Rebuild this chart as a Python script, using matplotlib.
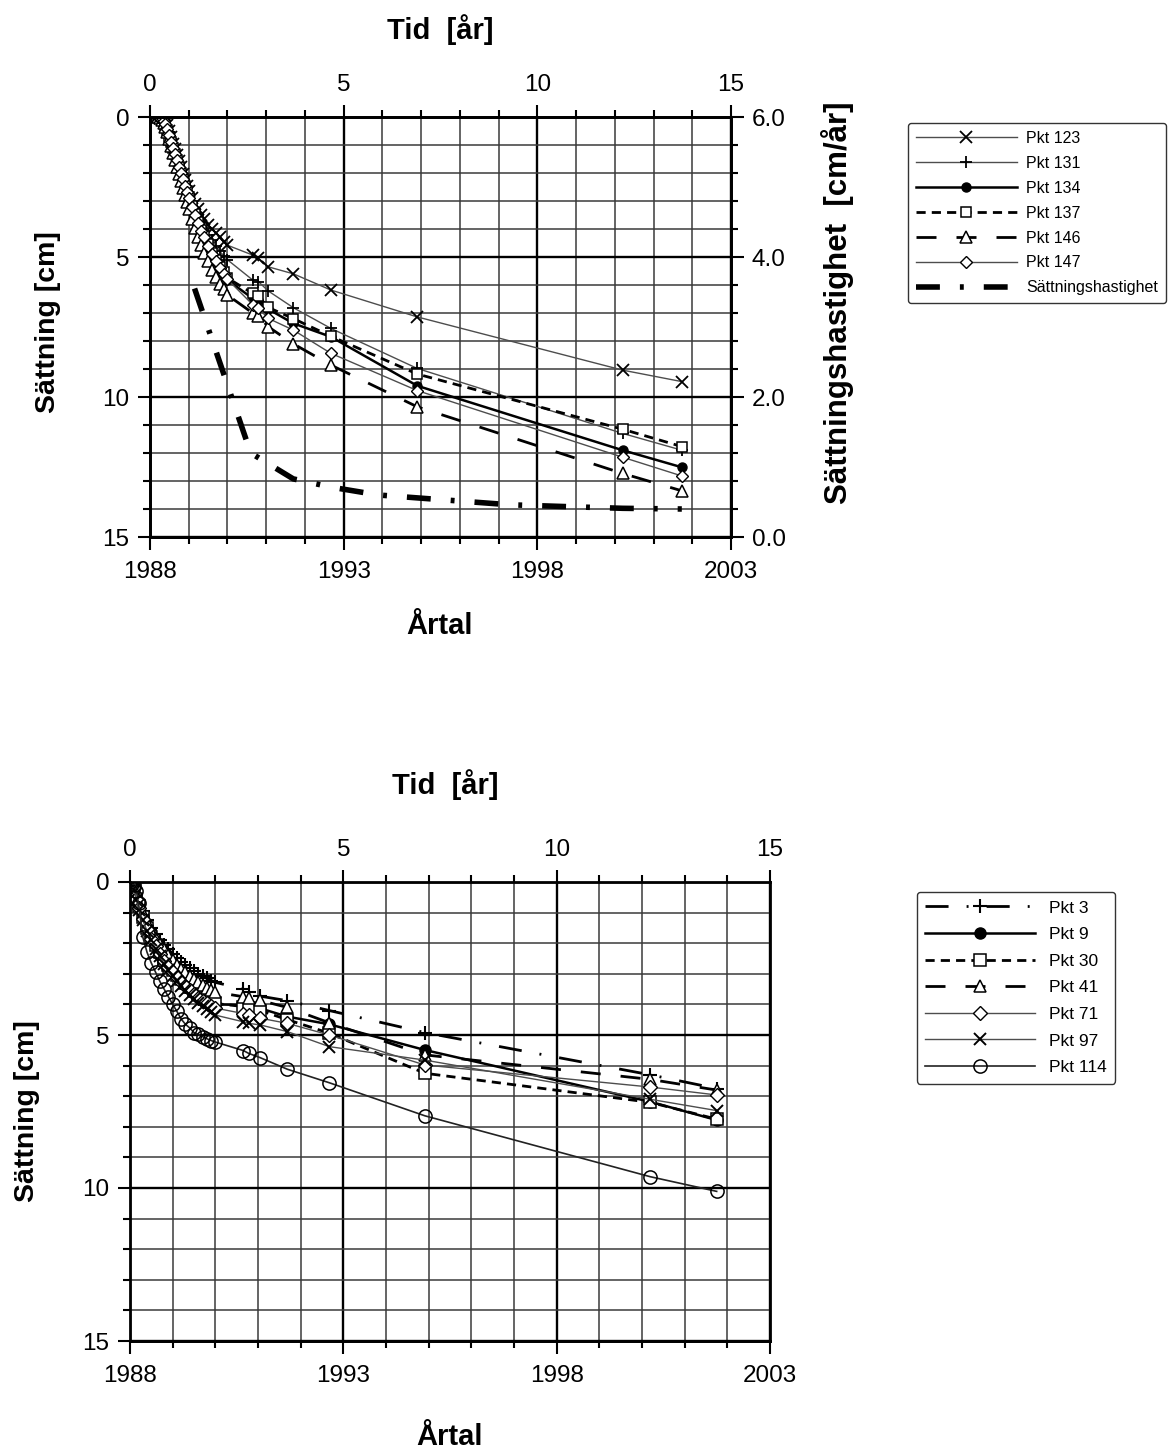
import numpy as np
import matplotlib.pyplot as plt
from matplotlib.ticker import MultipleLocator, FixedLocator, FormatStrFormatter

plt.rcParams['font.family'] = ['Liberation Sans', 'DejaVu Sans']

# ---------------- data: upper chart (tid i år från mätstart) ----------------
tid_a = [0.2, 0.25, 0.3, 0.35, 0.4, 0.45, 0.5, 0.55, 0.6, 0.65, 0.7, 0.75, 0.8, 0.85,
         0.9, 0.95, 1.0, 1.08, 1.16, 1.24, 1.32, 1.4, 1.5, 1.6, 1.7, 1.8, 1.9, 2.0,
         2.65, 2.8, 3.05, 3.7, 4.67, 6.9, 12.2, 13.73]
pkt123 = [0, 0.02, 0.05, 0.1, 0.15, 0.3, 0.5, 0.72, 0.95, 1.15, 1.35, 1.58, 1.8, 2.03,
          2.25, 2.45, 2.65, 2.9, 3.1, 3.3, 3.5, 3.65, 3.85, 4.0, 4.15, 4.3, 4.45, 4.58,
          4.93, 5.05, 5.35, 5.6, 6.18, 7.14, 9.04, 9.45]
pkt131 = [0, 0.02, 0.05, 0.12, 0.2, 0.35, 0.55, 0.78, 1.0, 1.22, 1.45, 1.68, 1.9, 2.12,
          2.35, 2.55, 2.75, 3.03, 3.27, 3.51, 3.75, 3.95, 4.2, 4.4, 4.6, 4.8, 4.95, 5.1,
          5.82, 5.88, 6.21, 6.81, 7.55, 8.98, 11.3, 11.9]
pkt134 = [0, 0.02, 0.05, 0.12, 0.2, 0.38, 0.6, 0.83, 1.05, 1.28, 1.5, 1.75, 2.0, 2.22,
          2.45, 2.68, 2.9, 3.22, 3.5, 3.78, 4.06, 4.3, 4.6, 4.9, 5.15, 5.4, 5.6, 5.82,
          6.48, 6.55, 6.86, 7.37, 7.85, 9.6, 11.9, 12.51]
pkt137 = [0, 0.04, 0.1, 0.2, 0.3, 0.48, 0.7, 0.9, 1.1, 1.33, 1.55, 1.78, 2.0, 2.22,
          2.45, 2.65, 2.85, 3.17, 3.46, 3.74, 4.02, 4.25, 4.55, 4.85, 5.1, 5.35, 5.55, 5.75,
          6.3, 6.4, 6.8, 7.2, 7.83, 9.18, 11.15, 11.77]
pkt146 = [0, 0.04, 0.1, 0.2, 0.35, 0.55, 0.8, 1.05, 1.3, 1.55, 1.8, 2.05, 2.3, 2.55,
          2.8, 3.05, 3.3, 3.66, 3.98, 4.3, 4.58, 4.85, 5.15, 5.45, 5.7, 5.95, 6.15, 6.36,
          7.0, 7.1, 7.49, 8.1, 8.86, 10.35, 12.73, 13.35]
pkt147 = [0, 0.02, 0.05, 0.14, 0.25, 0.43, 0.65, 0.88, 1.1, 1.33, 1.55, 1.78, 2.0, 2.23,
          2.45, 2.68, 2.9, 3.22, 3.5, 3.78, 4.06, 4.3, 4.6, 4.9, 5.15, 5.4, 5.6, 5.8,
          6.7, 6.83, 7.19, 7.61, 8.44, 9.77, 12.15, 12.82]

tid_v = [1.15, 2.6, 3.7, 4.7, 5.9, 7.6, 9.3, 11.0, 12.2, 13.73]
hastighet = [3.55, 1.2, 0.83, 0.71, 0.6, 0.53, 0.46, 0.43, 0.41, 0.4]

# ---------------- data: lower chart ----------------
tid_b = [0.0, 0.05, 0.1, 0.15, 0.2, 0.3, 0.4, 0.5, 0.6, 0.7, 0.8, 0.9, 1.0, 1.1, 1.2,
         1.3, 1.4, 1.5, 1.6, 1.7, 1.8, 1.9, 2.0, 2.66, 2.78, 3.05, 3.69, 4.67, 6.91,
         12.19, 13.75]
pkt3 = [0, 0.05, 0.15, 0.4, 0.65, 0.95, 1.25, 1.5, 1.7, 1.9, 2.05, 2.2, 2.35, 2.48, 2.6,
        2.7, 2.8, 2.9, 3.0, 3.08, 3.15, 3.22, 3.28, 3.5, 3.58, 3.73, 3.88, 4.2, 4.92,
        6.3, 6.75]
pkt9 = [0, 0.05, 0.2, 0.5, 0.75, 1.1, 1.45, 1.75, 2.0, 2.25, 2.45, 2.65, 2.82, 2.98, 3.12,
        3.25, 3.38, 3.5, 3.62, 3.72, 3.82, 3.92, 4.0, 4.02, 4.05, 4.13, 4.4, 4.65, 5.49,
        7.18, 7.78]
pkt30 = [0, 0.05, 0.2, 0.55, 0.8, 1.15, 1.5, 1.8, 2.05, 2.3, 2.5, 2.7, 2.87, 3.03, 3.17,
         3.3, 3.43, 3.55, 3.65, 3.75, 3.83, 3.9, 3.97, 4.07, 4.12, 4.2, 4.5, 4.94, 6.25,
         7.2, 7.75]
pkt41 = [0, 0.05, 0.15, 0.45, 0.7, 1.0, 1.3, 1.6, 1.82, 2.02, 2.2, 2.38, 2.55, 2.7, 2.83,
         2.95, 3.07, 3.18, 3.28, 3.38, 3.46, 3.54, 3.6, 3.75, 3.8, 3.87, 4.1, 4.6, 5.65,
         6.45, 6.8]
pkt71 = [0, 0.05, 0.2, 0.55, 0.85, 1.2, 1.55, 1.85, 2.1, 2.35, 2.57, 2.77, 2.95, 3.12, 3.27,
         3.41, 3.54, 3.67, 3.78, 3.88, 3.97, 4.05, 4.12, 4.3, 4.36, 4.45, 4.62, 5.0, 5.98,
         6.7, 6.96]
pkt97 = [0, 0.05, 0.25, 0.6, 0.9, 1.25, 1.6, 1.9, 2.18, 2.43, 2.67, 2.88, 3.07, 3.25, 3.41,
         3.56, 3.7, 3.83, 3.95, 4.06, 4.16, 4.26, 4.35, 4.57, 4.62, 4.67, 4.89, 5.38, 5.82,
         7.1, 7.47]
pkt114 = [0, 0.05, 0.1, 0.3, 0.7, 1.8, 2.3, 2.65, 2.95, 3.25, 3.5, 3.75, 4.0, 4.23, 4.48,
          4.65, 4.77, 4.92, 4.98, 5.05, 5.12, 5.18, 5.23, 5.51, 5.6, 5.74, 6.12, 6.56, 7.64,
          9.63, 10.11]

START = 1988
GRAY = '#4d4d4d'
TICK_FS = 17.5
LABEL_FS = 20.5


def setup_axes(ax):
    ax.set_xlim(0, 15)
    ax.set_ylim(15, 0)
    ax.xaxis.tick_top()
    ax.xaxis.set_major_locator(MultipleLocator(5))
    ax.xaxis.set_minor_locator(MultipleLocator(1))
    ax.yaxis.set_major_locator(MultipleLocator(5))
    ax.yaxis.set_minor_locator(MultipleLocator(1))
    ax.grid(which='minor', color='#3a3a3a', lw=1.1)
    ax.grid(which='major', color='black', lw=1.7)
    ax.set_axisbelow(True)
    ax.tick_params(which='both', direction='out', width=1.5, labelsize=TICK_FS, pad=6)
    ax.tick_params(which='major', length=9)
    ax.tick_params(which='minor', length=5)
    for s in ax.spines.values():
        s.set_linewidth(2)
    # Årtal på nedre axeln
    sec = ax.secondary_xaxis('bottom', functions=(lambda t: t + START, lambda y: y - START))
    sec.xaxis.set_major_locator(FixedLocator([1988, 1993, 1998, 2003]))
    sec.xaxis.set_minor_locator(MultipleLocator(1))
    sec.tick_params(which='both', direction='out', width=1.5, labelsize=TICK_FS, pad=8)
    sec.tick_params(which='major', length=9)
    sec.tick_params(which='minor', length=5)
    sec.spines['bottom'].set_linewidth(2)
    return sec


fig = plt.figure(figsize=(11.68, 14.53), dpi=100)

# ================= upper chart =================
ax1 = fig.add_axes([150 / 1168, 1 - 537 / 1453, 581 / 1168, 420 / 1453])
setup_axes(ax1)

h = []
h += ax1.plot(tid_a, pkt123, color=GRAY, lw=1.0, marker='x', ms=8.5, mew=1.3, mec='black', label='Pkt 123')
h += ax1.plot(tid_a, pkt131, color=GRAY, lw=1.0, marker='+', ms=9, mew=1.3, mec='black', label='Pkt 131')
h += ax1.plot(tid_a, pkt134, color='black', lw=1.8, marker='o', ms=6.5, mfc='black', mec='black', label='Pkt 134')
h += ax1.plot(tid_a, pkt137, color='black', lw=2.0, dashes=(3.3, 2.2), marker='s', ms=7.5,
              mfc='white', mec='black', mew=1.1, label='Pkt 137')
h += ax1.plot(tid_a, pkt146, color='black', lw=2.0, dashes=(7.2, 7.2), marker='^', ms=8,
              mfc='white', mec='black', mew=1.1, label='Pkt 146')
h += ax1.plot(tid_a, pkt147, color=GRAY, lw=1.0, marker='D', ms=6, mfc='white', mec='black', mew=1.0,
              label='Pkt 147')

ax2 = ax1.twinx()
ax2.set_ylim(0, 6)
ax2.yaxis.set_major_locator(MultipleLocator(2))
ax2.yaxis.set_minor_locator(MultipleLocator(0.4))
ax2.yaxis.set_major_formatter(FormatStrFormatter('%.1f'))
ax2.tick_params(which='both', direction='out', width=1.5, labelsize=TICK_FS, pad=6)
ax2.tick_params(which='major', length=9)
ax2.tick_params(which='minor', length=5)
for s in ax2.spines.values():
    s.set_linewidth(2)
h += ax2.plot(tid_v, hastighet, color='black', lw=4, dashes=(4.3, 3.6, 0.7, 3.6),
              label='Sättningshastighet')

fig.legend(handles=h, loc='upper left', bbox_to_anchor=(900 / 1168, 1 - 115 / 1453),
           fontsize=11.5, handlelength=6.3, handletextpad=0.6, labelspacing=0.62,
           numpoints=1, frameon=True, fancybox=True, edgecolor='black', borderpad=0.5)

fig.text(440 / 1168, 1 - 30 / 1453, 'Tid  [år]', ha='center', va='center', fontsize=21, fontweight='bold')
fig.text(440 / 1168, 1 - 626 / 1453, 'Årtal', ha='center', va='center', fontsize=21, fontweight='bold')
fig.text(48 / 1168, 1 - 322 / 1453, 'Sättning [cm]', ha='center', va='center', rotation=90,
         fontsize=LABEL_FS, fontweight='bold')
fig.text(838 / 1168, 1 - 303 / 1453, 'Sättningshastighet  [cm/år]', ha='center', va='center', rotation=90,
         fontsize=22.5, fontweight='bold')

# ================= lower chart =================
ax3 = fig.add_axes([130 / 1168, 1 - 1341 / 1453, 640 / 1168, 459 / 1453])
setup_axes(ax3)

g = []
g += ax3.plot(tid_b, pkt3, color='black', lw=2.0, dashes=(8.3, 6.5, 0.7, 6.5), marker='+', ms=10, mew=1.5,
              label='Pkt 3')
g += ax3.plot(tid_b, pkt9, color='black', lw=1.8, marker='o', ms=8, mfc='black', mec='black', label='Pkt 9')
g += ax3.plot(tid_b, pkt30, color='black', lw=2.0, dashes=(3.3, 2.2), marker='s', ms=8,
              mfc='white', mec='black', mew=1.1, label='Pkt 30')
g += ax3.plot(tid_b, pkt41, color='black', lw=2.0, dashes=(7.2, 7.2), marker='^', ms=8,
              mfc='white', mec='black', mew=1.1, label='Pkt 41')
g += ax3.plot(tid_b, pkt71, color=GRAY, lw=1.0, marker='D', ms=7, mfc='white', mec='black', mew=1.0,
              label='Pkt 71')
g += ax3.plot(tid_b, pkt97, color=GRAY, lw=1.0, marker='x', ms=9, mew=1.4, mec='black', label='Pkt 97')
g += ax3.plot(tid_b, pkt114, color='#222222', lw=1.2, marker='o', ms=9.5, mfc='none', mec='black', mew=1.1,
              label='Pkt 114')

fig.legend(handles=g, loc='upper left', bbox_to_anchor=(908 / 1168, 1 - 883 / 1453),
           fontsize=12.5, handlelength=6.3, handletextpad=0.8, labelspacing=0.66,
           numpoints=1, frameon=True, fancybox=True, edgecolor='black', borderpad=0.5)

fig.text(445 / 1168, 1 - 785 / 1453, 'Tid  [år]', ha='center', va='center', fontsize=21, fontweight='bold')
fig.text(450 / 1168, 1 - 1437 / 1453, 'Årtal', ha='center', va='center', fontsize=21, fontweight='bold')
fig.text(27 / 1168, 1 - 1111 / 1453, 'Sättning [cm]', ha='center', va='center', rotation=90,
         fontsize=LABEL_FS, fontweight='bold')

fig.savefig('out.png', dpi=100)
